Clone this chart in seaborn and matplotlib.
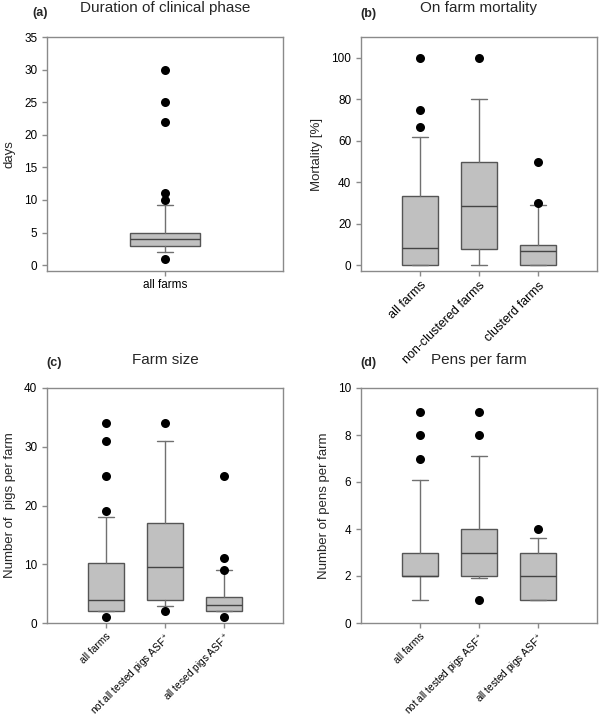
import numpy as np
import matplotlib
matplotlib.use('Agg')
import matplotlib.pyplot as plt
import seaborn as sns
import pandas as pd

sns.set_theme(style='ticks')
plt.rcParams['font.family'] = ['Liberation Sans', 'DejaVu Sans']
plt.rcParams['mathtext.fontset'] = 'custom'
plt.rcParams['mathtext.rm'] = 'Liberation Sans'

# (a) duration of clinical phase
a_cats = ['all farms']
a_q1 = [3]
a_med = [4]
a_q3 = [5]
a_lo = [2]
a_hi = [9.2]
a_out = [[1, 10, 11, 22, 25, 30]]

# (b) on farm mortality
b_cats = ['all farms', 'non-clustered farms', 'clusterd farms']
b_q1 = [0, 7.7, 0]
b_med = [8.3, 28.6, 7.1]
b_q3 = [33.3, 50, 10]
b_lo = [0, 0, 0]
b_hi = [62, 80, 29]
b_out = [[66.7, 75, 100], [100], [30, 50]]

# (c) farm size
c_cats = ['all farms', 'not all tested pigs ASF$^+$', 'all tesed pigs ASF$^+$']
c_q1 = [2, 4, 2]
c_med = [4, 9.5, 3]
c_q3 = [10.2, 17, 4.5]
c_lo = [2, 2.9, 2]
c_hi = [18.1, 31, 9]
c_out = [[1, 19, 25, 31, 34], [2, 34], [1, 9, 11, 25]]

# (d) pens per farm
d_cats = ['all farms', 'not all tested pigs ASF$^+$', 'all tested pigs ASF$^+$']
d_q1 = [2, 2, 1]
d_med = [2, 3, 2]
d_q3 = [3, 4, 3]
d_lo = [1, 1.9, 1]
d_hi = [6.1, 7.1, 3.6]
d_out = [[7, 8, 9], [1, 8, 9], [4]]

W, H = 600, 722
fig = plt.figure(figsize=(W / 100, H / 100), dpi=100)


def px_axes(left, top, right, bottom):
    return fig.add_axes([left / W, (H - bottom) / H, (right - left) / W, (bottom - top) / H])


def panel(ax, cats, q1, med, q3, lo, hi, out, capw, rot, xsize):
    stats = []
    for i, c in enumerate(cats):
        stats.append(dict(label=c, q1=q1[i], med=med[i], q3=q3[i],
                          whislo=lo[i], whishi=hi[i], fliers=[]))
    ax.bxp(stats, positions=range(len(cats)), widths=0.6, patch_artist=True,
           showfliers=False, capwidths=capw,
           boxprops=dict(facecolor='#c0c0c0', edgecolor='#555555', linewidth=1),
           medianprops=dict(color='#444444', linewidth=1),
           whiskerprops=dict(color='#707070', linewidth=1),
           capprops=dict(color='#707070', linewidth=1))
    # outliers as points on the category axis
    df = pd.DataFrame({'cat': [c for c, o in zip(cats, out) for _ in o],
                       'val': [v for o in out for v in o]})
    sns.stripplot(data=df, x='cat', y='val', order=cats, jitter=False,
                  color='black', size=6.5, ax=ax, zorder=5)
    ax.set_xlabel('')
    ax.set_xticks(range(len(cats)))
    if rot:
        ax.set_xticklabels(cats, rotation=45, ha='right', rotation_mode='anchor',
                           fontsize=xsize)
    else:
        ax.set_xticklabels(cats, fontsize=xsize)
    for s in ax.spines.values():
        s.set_color('#8a8a8a')
        s.set_linewidth(1)
    ax.tick_params(colors='#8a8a8a', labelcolor='black', length=3.5, width=1,
                   direction='out')
    ax.tick_params(axis='y', labelsize=8.5)
    ax.tick_params(axis='x', pad=2.5)


ax_a = px_axes(47, 37, 283, 271)
panel(ax_a, a_cats, a_q1, a_med, a_q3, a_lo, a_hi, a_out, 0.14, False, 8.5)
ax_a.set_xlim(-1, 1)
ax_a.set_ylim(-0.9, 35)
ax_a.set_yticks(np.arange(0, 36, 5))
ax_a.set_ylabel('days', fontsize=9.5, labelpad=6)

ax_b = px_axes(361, 37, 597, 271)
panel(ax_b, b_cats, b_q1, b_med, b_q3, b_lo, b_hi, b_out, 0.28, True, 9)
ax_b.set_xlim(-1, 3)
ax_b.set_ylim(-2.7, 110)
ax_b.set_yticks(np.arange(0, 101, 20))
ax_b.set_ylabel('Mortality [%]', fontsize=9.5, labelpad=6)

ax_c = px_axes(47, 388, 283, 623)
panel(ax_c, c_cats, c_q1, c_med, c_q3, c_lo, c_hi, c_out, 0.28, True, 7.3)
ax_c.set_xlim(-1, 3)
ax_c.set_ylim(0, 40)
ax_c.set_yticks(np.arange(0, 41, 10))
ax_c.set_ylabel('Number of  pigs per farm', fontsize=9.5, labelpad=6)

ax_d = px_axes(361, 388, 597, 623)
panel(ax_d, d_cats, d_q1, d_med, d_q3, d_lo, d_hi, d_out, 0.28, True, 7.3)
ax_d.set_xlim(-1, 3)
ax_d.set_ylim(0, 10)
ax_d.set_yticks(np.arange(0, 11, 2))
ax_d.set_ylabel('Number of pens per farm', fontsize=9.5, labelpad=6)

# titles and panel letters
for x, y, letter, lx, ly, title in [(165, 8, '(a)', 32, 13, 'Duration of clinical phase'),
                                    (479, 8, '(b)', 360, 14, 'On farm mortality'),
                                    (165, 360, '(c)', 46, 363, 'Farm size'),
                                    (479, 360, '(d)', 360, 363, 'Pens per farm')]:
    fig.text(x / W, 1 - y / H, title, ha='center', va='center', fontsize=11)
    fig.text(lx / W, 1 - ly / H, letter, ha='left', va='center',
             fontsize=9, fontweight='bold')

fig.savefig('out.png', dpi=100)
